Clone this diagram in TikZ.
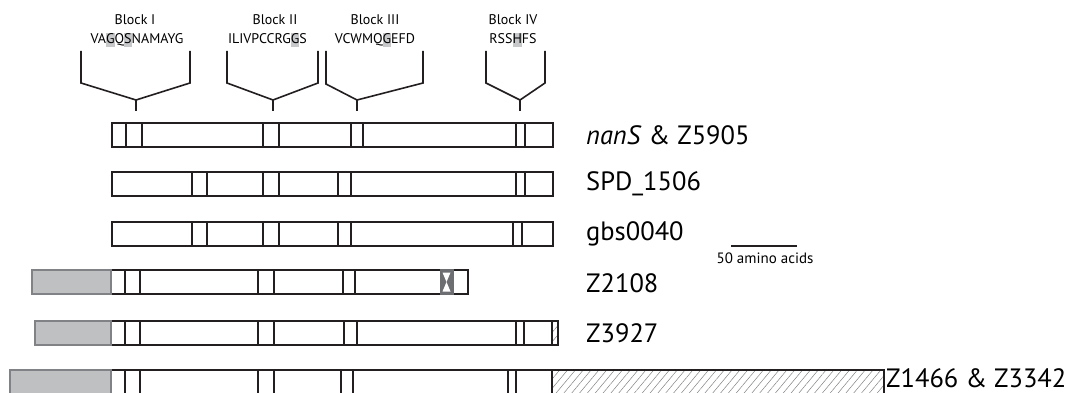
\documentclass[tikz,border=0pt]{standalone}
\usepackage{fontspec}
\setmainfont{PT Sans}
\usetikzlibrary{patterns.meta}
\definecolor{ink}{HTML}{231F20}
\definecolor{hlgray}{HTML}{C7C8CA}
\definecolor{boxgray}{HTML}{BFC0C2}
\definecolor{edgegray}{HTML}{808285}
\definecolor{xgray}{HTML}{6D6E71}
\newcommand\hlt[1]{\begingroup\setlength{\fboxsep}{0pt}\colorbox{hlgray}{\rule[-3pt]{0pt}{13.5pt}#1}\endgroup}
\tikzset{
  barline/.style={draw=ink, line width=2.4pt},
  blockbox/.style={draw=ink, line width=2.4pt},
  greybox/.style={draw=edgegray, fill=boxgray, line width=2.4pt},
  brk/.style={draw=ink, line width=1.6pt},
  small/.style={font=\fontsize{14}{16}\selectfont, inner sep=0pt},
  big/.style={font=\fontsize{26.5}{30}\selectfont, inner sep=0pt, anchor=west},
  hatch/.style={pattern={Lines[angle=50,distance=6pt,line width=0.5pt]}, pattern color=edgegray},
}
\begin{document}
\begin{tikzpicture}[x=1pt,y=-1pt]
\useasboundingbox (0,0) rectangle (1067,393);
\clip (0,0) rectangle (1067,393);
% ---- block labels
\node[small] (b1) at (135,20) {Block I};
\node[small] (s1) at (137,40) {VA\hlt{G}Q\hlt{S}NAMAYG};
\node[small] (b2) at (275,20) {Block II};
\node[small] (s2) at (267.5,40) {ILIVPCCRG\hlt{G}S};
\node[small] (b3) at (375,20) {Block III};
\node[small] (s3) at (375,40) {VCWMQ\hlt{G}EFD};
\node[small] (b4) at (513,20) {Block IV};
\node[small] (s4) at (513,40) {RSS\hlt{H}FS};
% ---- brackets
\coordinate (k1a) at (81,51); \coordinate (k1b) at (190,51); \coordinate (k1c) at (136,100);
\draw[brk] (k1a) -- (81,83) -- (k1c) -- (190,83) -- (k1b);
\draw[brk] (k1c) -- (136,111);
\coordinate (k2a) at (227,51); \coordinate (k2b) at (318,51); \coordinate (k2c) at (273,100);
\draw[brk] (k2a) -- (227,83) -- (k2c) -- (318,83) -- (k2b);
\draw[brk] (k2c) -- (273,111);
\coordinate (k3a) at (326,51); \coordinate (k3b) at (423,51); \coordinate (k3c) at (357,100);
\draw[brk] (k3a) -- (326,84) -- (k3c) -- (423,83) -- (k3b);
\draw[brk] (k3c) -- (357,111);
\coordinate (k4a) at (486,51); \coordinate (k4b) at (545,51); \coordinate (k4c) at (520,100);
\draw[brk] (k4a) -- (486,83) -- (k4c) -- (545,83) -- (k4b);
\draw[brk] (k4c) -- (520,111);
% ---- row 1 nanS
\draw[barline] (112,123) rectangle (553,147);
\foreach \a/\b in {126/142,263/279,351/363,516/525} \draw[blockbox] (\a,123) rectangle (\b,147);
\node[big] (l1) at (586,135) {\textit{nanS} \& Z5905};
% ---- row 2 SPD_1506
\draw[barline] (112,172) rectangle (553,196);
\foreach \a/\b in {192/207,263/279,338/351,516/525} \draw[blockbox] (\a,172) rectangle (\b,196);
\node[big] (l2) at (586,184) {SPD\_1506};
% ---- row 3 gbs0040
\draw[barline] (112,222) rectangle (553,246);
\foreach \a/\b in {192/207,263/279,338/351,513/522} \draw[blockbox] (\a,222) rectangle (\b,246);
\node[big] (l3) at (586,234) {gbs0040};
% ---- scale bar
\coordinate (sc1) at (731,246); \coordinate (sc2) at (797,246);
\draw[draw=ink, line width=2.4pt] (sc1) -- (sc2);
\node[font=\fontsize{15}{17}\selectfont, inner sep=0pt] (sct) at (765,258) {50 amino acids};
% ---- row 4 Z2108
\draw[barline] (111,270) -- (468,270) -- (468,294) -- (111,294);
\foreach \a/\b in {125/140,258/274,343/355} \draw[blockbox] (\a,270) rectangle (\b,294);
\fill[xgray] (439.5,268.8) rectangle (453.5,295.2);
\fill[white] (442.5,272.5) -- (450.5,272.5) -- (446.5,282) -- cycle;
\fill[white] (442.5,291.5) -- (450.5,291.5) -- (446.5,282) -- cycle;
\draw[greybox] (32,270) rectangle (111,294);
\node[big] (l4) at (586,283) {Z2108};
% ---- row 5 Z3927
\draw[barline] (111,321) -- (552,321) -- (552,345) -- (111,345);
\foreach \a/\b in {125/140,258/274,344/357,516/524} \draw[blockbox] (\a,321) rectangle (\b,345);
\draw[barline, hatch] (552,321) rectangle (558,345);
\draw[greybox] (35,321) rectangle (111,345);
\node[big] (l5) at (586,333) {Z3927};
% ---- row 6 Z1466
\draw[barline, hatch] (552,370) rectangle (884,394);
\draw[barline] (111,370) -- (552,370) -- (552,394) -- (111,394);
\foreach \a/\b in {125/140,258/274,341/353,508/516} \draw[blockbox] (\a,370) rectangle (\b,394);
\draw[greybox] (10,370) rectangle (111,394);
\node[big] (l6) at (886,378.5) {Z1466 \& Z3342};
\end{tikzpicture}
\end{document}
